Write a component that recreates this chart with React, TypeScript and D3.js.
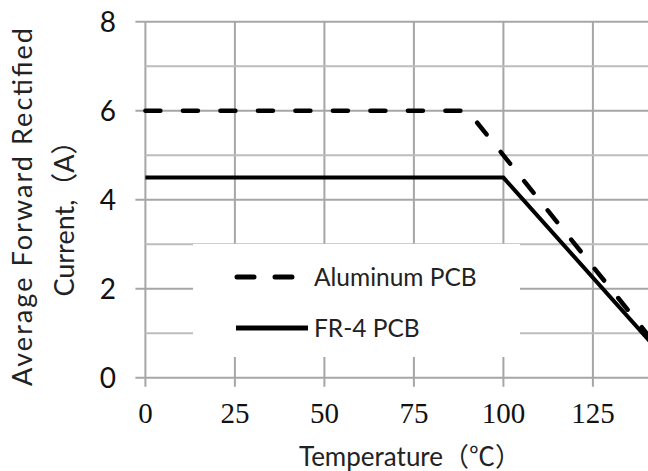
import React, { useEffect, useRef } from 'react';
import * as d3 from 'd3';

// ==== data

const xTicks = [0, 25, 50, 75, 100, 125, 150];
const xLabels = [0, 25, 50, 75, 100, 125];
const yMajor = [0, 2, 4, 6, 8];
const yMinor = [1, 3, 5, 7];

const aluminumTemp = [0, 90, 150];
const aluminumCurrent = [6, 6, 0];

const fr4Temp = [0, 100, 150];
const fr4Current = [4.5, 4.5, 0];

const legendLabels = ['Aluminum PCB', 'FR-4 PCB'];

const SANS = 'Lato, "Noto Sans CJK SC", sans-serif';
const SERIF = '"Liberation Serif", "DejaVu Serif", serif';

// ====

const App = () => {
    const node = useRef<SVGSVGElement | null>(null);

    useEffect(() => {
        const svg = d3.select(node.current);
        svg.selectAll('*').remove();

        const x = d3.scaleLinear().domain([0, 150]).range([145.4, 682.4]);
        const y = d3.scaleLinear().domain([0, 8]).range([377.8, 21.8]);
        const grid = '#a6a6a6';

        // vertical grid + ticks below axis
        svg.append('g').selectAll('line')
            .data(xTicks)
            .enter()
            .append('line')
            .attr('x1', (d) => x(d)).attr('x2', (d) => x(d))
            .attr('y1', y(8)).attr('y2', y(0) + 9)
            .attr('stroke', grid).attr('stroke-width', 2);

        svg.append('g').selectAll('line')
            .data(yMajor)
            .enter()
            .append('line')
            .attr('x1', x(0) - 10).attr('x2', x(150))
            .attr('y1', (d) => y(d)).attr('y2', (d) => y(d))
            .attr('stroke', grid).attr('stroke-width', 2);

        svg.append('g').selectAll('line')
            .data(yMinor)
            .enter()
            .append('line')
            .attr('x1', x(0)).attr('x2', x(150))
            .attr('y1', (d) => y(d)).attr('y2', (d) => y(d))
            .attr('stroke', '#bdbdbd').attr('stroke-width', 2);

        // legend background hides the grid
        svg.append('rect')
            .attr('x', 193).attr('y', 244)
            .attr('width', 327).attr('height', 113)
            .attr('fill', '#fff');

        const line = d3.line<[number, number]>()
            .x((d) => x(d[0]))
            .y((d) => y(d[1]));

        svg.append('path')
            .datum(d3.zip(fr4Temp, fr4Current) as [number, number][])
            .attr('d', line)
            .attr('fill', 'none')
            .attr('stroke', '#000')
            .attr('stroke-width', 4);

        svg.append('path')
            .datum(d3.zip(aluminumTemp, aluminumCurrent) as [number, number][])
            .attr('d', line)
            .attr('fill', 'none')
            .attr('stroke', '#000')
            .attr('stroke-width', 4.5)
            .attr('stroke-linecap', 'round')
            .attr('stroke-dasharray', '15 22.5');

        // legend
        const lg = svg.append('g');
        lg.append('line')
            .attr('x1', 237).attr('x2', 297).attr('y1', 277).attr('y2', 277)
            .attr('stroke', '#000').attr('stroke-width', 5)
            .attr('stroke-linecap', 'round')
            .attr('stroke-dasharray', '17 21');
        lg.append('line')
            .attr('x1', 236).attr('x2', 308).attr('y1', 328).attr('y2', 328)
            .attr('stroke', '#000').attr('stroke-width', 5);
        lg.selectAll('text')
            .data(legendLabels)
            .enter()
            .append('text')
            .attr('x', 314)
            .attr('y', (d, i) => 277 + i * 51)
            .attr('dy', '0.35em')
            .style('font-family', SANS)
            .style('font-size', '24.5px')
            .attr('fill', '#222')
            .text((d) => d);

        // y tick labels
        svg.append('g').selectAll('text')
            .data(yMajor)
            .enter()
            .append('text')
            .attr('x', 116)
            .attr('y', (d) => y(d))
            .attr('dy', '0.36em')
            .attr('text-anchor', 'end')
            .style('font-family', SANS)
            .style('font-size', '28px')
            .attr('fill', '#111')
            .text((d) => d);

        // x tick labels
        svg.append('g').selectAll('text')
            .data(xLabels)
            .enter()
            .append('text')
            .attr('x', (d) => x(d))
            .attr('y', 423)
            .attr('text-anchor', 'middle')
            .style('font-family', SERIF)
            .style('font-size', '29px')
            .attr('fill', '#111')
            .text((d) => d);

        // axis titles
        svg.append('text')
            .attr('x', 410).attr('y', 466)
            .attr('text-anchor', 'middle')
            .style('font-family', SANS)
            .style('font-size', '26px')
            .attr('fill', '#222')
            .text('Temperature（℃）');

        svg.append('text')
            .attr('transform', 'translate(32,207) rotate(-90)')
            .attr('text-anchor', 'middle')
            .attr('textLength', 358)
            .attr('lengthAdjust', 'spacing')
            .style('font-family', SANS)
            .style('font-size', '27px')
            .attr('fill', '#222')
            .text('Average Forward Rectified');

        svg.append('text')
            .attr('transform', 'translate(74,212) rotate(-90)')
            .attr('text-anchor', 'middle')
            .style('font-family', SANS)
            .style('font-size', '27px')
            .attr('fill', '#222')
            .text('Current,（A）');
    }, []);

    return (
        <div style={{ position: 'absolute', left: 0, top: 0 }}>
            <svg ref={node} width={648} height={471} style={{ display: 'block', background: '#fff' }} />
        </div>
    );
};

export default App;
